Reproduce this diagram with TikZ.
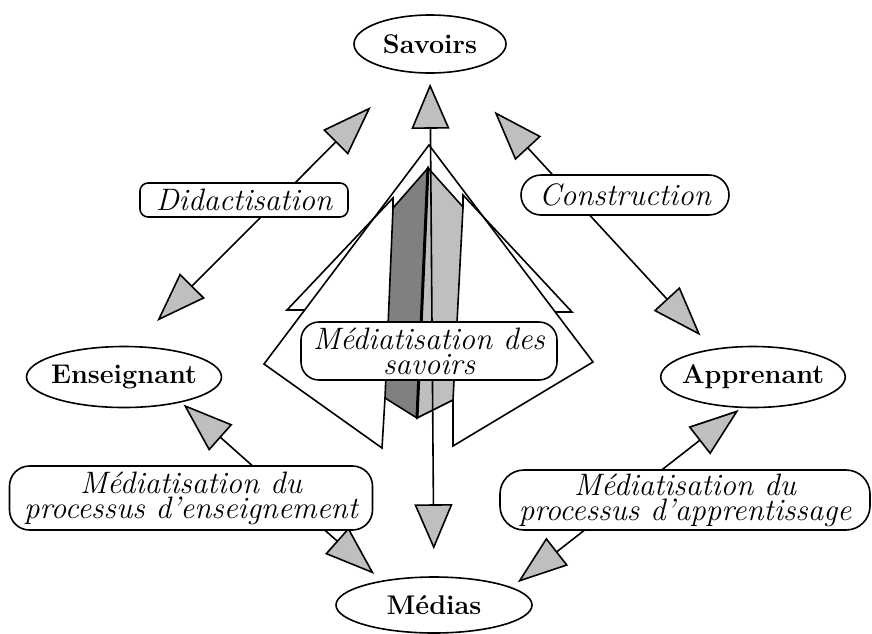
\documentclass[tikz,border=0pt]{standalone}
\usepackage{tikz}
\usetikzlibrary{positioning,arrows.meta,shapes.geometric,calc}
\definecolor{tipgray}{gray}{0.75}
\definecolor{facegray}{gray}{0.5}

\begin{document}
\begin{tikzpicture}[x=1pt,y=-1pt]
	\tikzset{
	    acteur/.style={draw, ellipse, line width=1.6pt, fill=white, inner ysep=0pt, inner xsep=-6pt,
	        font=\fontsize{27}{32}\selectfont\bfseries},
	    process/.style={draw, rounded corners=#1, line width=1.6pt, fill=white, inner sep=2pt,
	        align=center, font=\fontsize{31}{25}\selectfont\itshape},
	    grosse/.tip={Triangle[length=50pt,width=35pt,fill=tipgray]},
	    droite/.tip={Triangle[length=45pt,width=38pt,fill=tipgray]},
	    fleche/.style={line width=1.6pt, {grosse}-{grosse}}
	}
	\useasboundingbox (0,0) rectangle (872,633);

	% la pyramide du milieu
	\draw[line width=1.6pt, fill=white] (429,145) -- (264,364) -- (382,448) -- (385,398)
	    -- (453,400) -- (453,446) -- (593,362) -- cycle;
	\draw[line width=1.6pt] (304,310) -- (287,310) -- (393,198) -- (393,210);
	\draw[line width=1.6pt] (555,312) -- (572,312) -- (463,195) -- (463,209);
	\draw[line width=1.6pt, fill=facegray] (428,168) -- (393,208) -- (385,398) -- (417,418) -- cycle;
	\draw[line width=1.6pt, fill=tipgray] (428,168) -- (463,207) -- (453,400) -- (417,418) -- cycle;
	\draw[line width=3pt] (428,168) -- (417,418);

	\node[acteur, minimum width=152pt, minimum height=58pt] (savoirs) at (430,44) {Savoirs};
	\node[acteur, minimum width=195pt, minimum height=61pt] (enseignant) at (124,377) {Enseignant};
	\node[acteur, minimum width=182pt, minimum height=61pt] (apprenant) at (753,377) {Apprenant};
	\node[acteur, minimum width=196pt, minimum height=56pt] (medias) at (434,605) {Médias};

	\draw[line width=1.6pt, {droite}-{droite}, shorten <=10pt, shorten >=27pt] (savoirs.south) -- (medias.north);
	\draw[fleche, shorten <=49pt, shorten >=35pt] (savoirs.229) -- (enseignant.75);
	\draw[fleche, shorten <=54pt, shorten >=18pt] (savoirs.315) -- (apprenant.145);
	\draw[fleche, shorten <=3pt, shorten >=10pt] (enseignant.336) -- (medias.155);
	\draw[fleche, shorten <=3pt, shorten >=8pt] (apprenant.249) -- (medias.13);

	\node[process=8pt, minimum width=208pt, minimum height=34pt] (didact) at (244,200) {Didactisation};
	\node[process=20pt, minimum width=208pt, minimum height=40pt] (constr) at (625,195) {Construction};
	\node[process=18pt, minimum width=256pt, minimum height=58pt] (medsav) at (429,351) {Médiatisation des\\savoirs};
	\node[process=20pt, minimum width=363pt, minimum height=64pt] (medens) at (191,498) {Médiatisation du\\processus d'enseignement};
	\node[process=24pt, minimum width=370pt, minimum height=60pt] (medapp) at (685,500) {Médiatisation du\\processus d'apprentissage};
\end{tikzpicture}
\end{document}
